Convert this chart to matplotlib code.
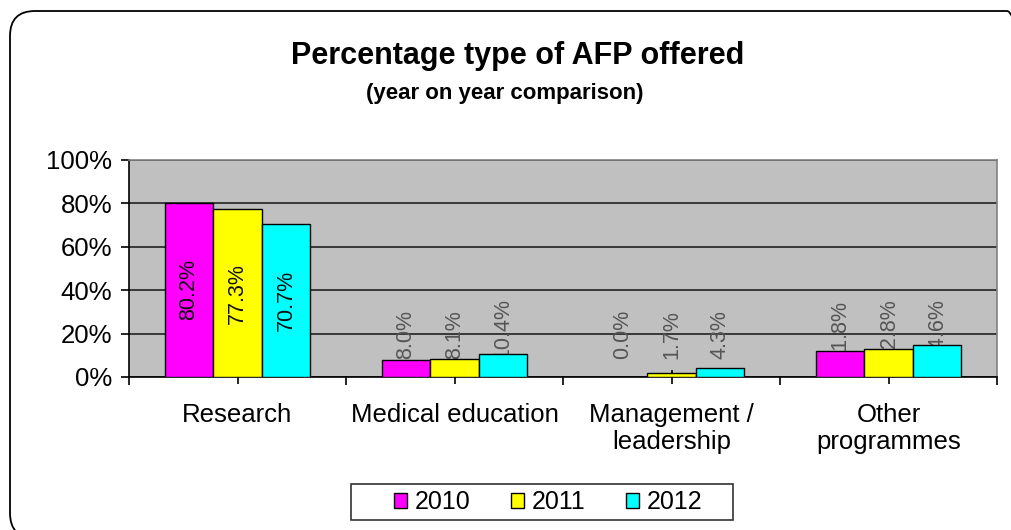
import matplotlib.pyplot as plt
from matplotlib.patches import FancyBboxPatch, Rectangle
from matplotlib.transforms import IdentityTransform
import numpy as np

plt.rcParams['font.family'] = ['Liberation Sans', 'DejaVu Sans']

categories = ['Research', 'Medical education', 'Management /\nleadership', 'Other\nprogrammes']
years = ['2010', '2011', '2012']
pct_2010 = [80.2, 8.0, 0.0, 11.8]
pct_2011 = [77.3, 8.1, 1.7, 12.8]
pct_2012 = [70.7, 10.4, 4.3, 14.6]
colors = ['#FF00FF', '#FFFF00', '#00FFFF']
yticks = [0, 20, 40, 60, 80, 100]


def main():
    fig = plt.figure(figsize=(10.12, 5.30), dpi=100)
    fig.patch.set_facecolor('white')

    # rounded chart border (in pixels), right and bottom run off the image
    border = FancyBboxPatch((10, -8), 1022, 527, boxstyle='round,pad=0,rounding_size=25',
                            transform=IdentityTransform(), facecolor='none',
                            edgecolor='black', linewidth=1.3)
    fig.patches.append(border)

    ax = fig.add_axes([129 / 1012, 1 - 377 / 530, (997 - 129) / 1012, (377 - 160) / 530])
    ax.set_facecolor('#C0C0C0')

    x = np.arange(len(categories))
    width = 0.2235
    series = [pct_2010, pct_2011, pct_2012]
    for i, (vals, col, yr) in enumerate(zip(series, colors, years)):
        pos = x + (i - 1) * width
        ax.bar(pos, vals, width, color=col, edgecolor='black', linewidth=1,
               label=yr, zorder=3)
        for p, v in zip(pos, vals):
            if v >= 20:
                ax.text(p, v / 2, f'{v:.1f}%', rotation=90, ha='center', va='center',
                        fontsize=15.5, color='#111111', zorder=4)
            else:
                ax.text(p, 8.3, f'{v:.1f}%', rotation=90, ha='center', va='bottom',
                        fontsize=15.5, color='#555555', zorder=2.8)

    ax.set_xlim(-0.5, len(categories) - 0.5)
    ax.set_ylim(0, 100)
    ax.set_yticks(yticks)
    ax.set_yticklabels([f'{t}%' for t in yticks], fontsize=18.5)
    ax.yaxis.grid(True, color='#222222', linewidth=1.2, zorder=1)
    ax.set_axisbelow(True)

    ax.set_xticks(np.arange(-0.5, len(categories), 1.0))
    ax.set_xticklabels([])
    ax.set_xticks(x, minor=True)
    ax.set_xticklabels(categories, minor=True, fontsize=18.5, linespacing=1.15)
    ax.tick_params(axis='x', which='major', direction='out', length=6, width=1.2)
    ax.tick_params(axis='x', which='minor', direction='inout', length=10, width=1.2, pad=14)
    ax.tick_params(axis='y', direction='out', length=6, width=1.2, pad=6)

    for s in ['top', 'right']:
        ax.spines[s].set_color('#808080')
        ax.spines[s].set_linewidth(1.2)
    for s in ['left', 'bottom']:
        ax.spines[s].set_color('black')
        ax.spines[s].set_linewidth(1.2)

    fig.text(0.5115, 1 - 56 / 530, 'Percentage type of AFP offered', ha='center', va='center',
             fontsize=22, fontweight='bold')
    fig.text(0.4985, 1 - 93 / 530, '(year on year comparison)', ha='center', va='center',
             fontsize=16, fontweight='bold')

    # legend box drawn separately so the inner padding matches
    fig.patches.append(Rectangle((351, 10), 382, 36, transform=IdentityTransform(),
                                 facecolor='white', edgecolor='#333333', linewidth=1.2,
                                 zorder=5))
    leg = fig.legend(loc='center', bbox_to_anchor=(548 / 1012, 1 - 502 / 530), ncol=3,
                     fontsize=18, frameon=False, handlelength=0.55,
                     handleheight=0.55, handletextpad=0.3, columnspacing=1.6,
                     borderpad=0, borderaxespad=0)
    leg.set_zorder(6)

    plt.savefig('out.png', dpi=100)


if __name__ == "__main__":
    main()
